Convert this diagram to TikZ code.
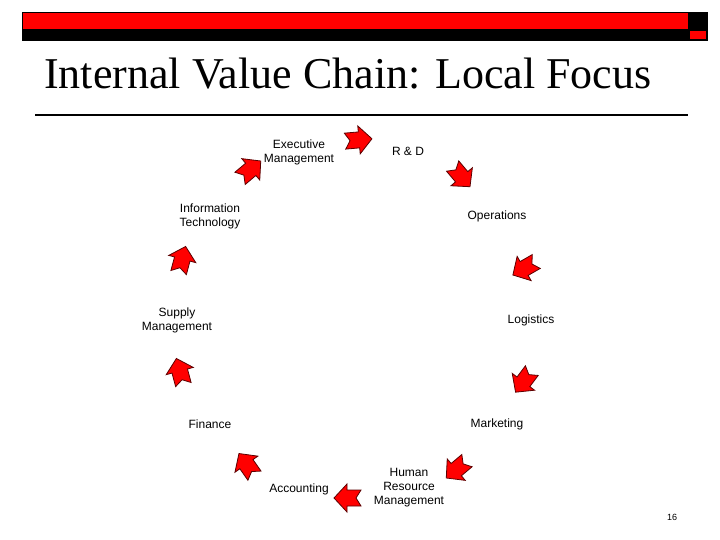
\documentclass[tikz,border=0pt]{standalone}
\usepackage{fontspec}
\setmainfont{Liberation Sans}
\newfontfamily\titlefont{Liberation Serif}
\definecolor{slidered}{RGB}{255,0,0}
\definecolor{edgered}{RGB}{90,0,0}
\tikzset{
  lbl/.style={font=\fontsize{12}{14}\selectfont, align=center, inner sep=0pt},
  blockarrow/.pic={
    \filldraw[fill=slidered, draw=edgered, line width=0.8pt, line join=miter]
      (-13,-8) -- (1,-8) -- (1,-14) -- (14,0) -- (1,14) -- (1,8) -- (-13,8) -- (-8,0) -- cycle;
  }
}
\begin{document}
\begin{tikzpicture}[x=1pt,y=-1pt]
\useasboundingbox (0,0) rectangle (720,540);
% header bar
\fill[black] (22,12) rectangle (708,41);
\fill[slidered] (23,13) rectangle (688,29);
\fill[slidered] (690,31) rectangle (706,39);
% title
\node[anchor=base west, inner sep=0pt, font=\titlefont\fontsize{44}{48}\selectfont] (title) at (44,89) {Internal Value Chain: Local Focus};
\draw[line width=1.2pt] (35,115) -- (688,115);
% labels
\node[lbl] (exec) at (299,152) {Executive\\Management};
\node[lbl] (rd) at (408,151) {R \& D};
\node[lbl] (it) at (210,216) {Information\\Technology};
\node[lbl] (ops) at (497,216) {Operations};
\node[lbl] (supply) at (177,320) {Supply\\Management};
\node[lbl] (log) at (531,320) {Logistics};
\node[lbl] (fin) at (210,424) {Finance};
\node[lbl] (mkt) at (497,424) {Marketing};
\node[lbl] (acc) at (299,489) {Accounting};
\node[lbl] (hrm) at (409,488) {Human\\Resource\\Management};
\node[inner sep=0pt, font=\fontsize{9}{10}\selectfont] (page) at (672,517) {16};
% arrows
\pic[rotate=5] at (358,140) {blockarrow};
\pic[rotate=-50] at (461,176) {blockarrow};
\pic[rotate=-150] at (525,268) {blockarrow};
\pic[rotate=-127] at (524,381) {blockarrow};
\pic[rotate=-140] at (457,469) {blockarrow};
\pic[rotate=180] at (348,498) {blockarrow};
\pic[rotate=125] at (247,465) {blockarrow};
\pic[rotate=105] at (180,372) {blockarrow};
\pic[rotate=75] at (182,260) {blockarrow};
\pic[rotate=40] at (250,170) {blockarrow};
\end{tikzpicture}
\end{document}
